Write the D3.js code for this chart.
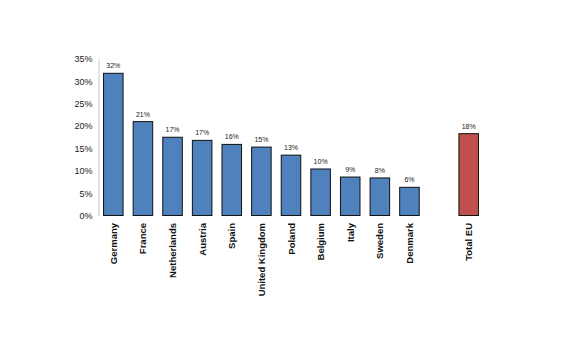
<!DOCTYPE html>
<html><head><meta charset="utf-8">
<script src="https://cdn.jsdelivr.net/npm/d3@7"></script>
<style>body{margin:0;background:#fff}svg{display:block}</style>
</head><body>
<script>
const categories = ["Germany","France","Netherlands","Austria","Spain","United Kingdom","Poland","Belgium","Italy","Sweden","Denmark","","Total EU"];
const values = [31.8,21.0,17.5,16.8,15.9,15.3,13.5,10.4,8.6,8.4,6.3,null,18.3];
const valueLabels = ["32%","21%","17%","17%","16%","15%","13%","10%","9%","8%","6%","","18%"];
const yTicks = [0,5,10,15,20,25,30,35];

const W=570,H=356;
const svg=d3.select("body").append("svg").attr("width",W).attr("height",H);
const x=d3.scaleBand().domain(categories.map((c,i)=>i)).range([98.5,483.5]).paddingInner(0.34).paddingOuter(0.17);
const y=d3.scaleLinear().domain([0,35]).range([215.5,59]);
const font="'Liberation Sans', Arial, sans-serif";

// y axis
const ya=svg.append("g").attr("transform","translate(98.5,0)").call(d3.axisLeft(y).tickValues(yTicks).tickSize(0).tickPadding(6).tickFormat(d=>d+"%"));
ya.select(".domain").attr("stroke","#c8c8c8");
ya.selectAll("text").attr("font-family",font).attr("font-size",9).attr("fill","#222");

const data=categories.map((c,i)=>({c,i,v:values[i],l:valueLabels[i]})).filter(d=>d.v!=null);
svg.selectAll("rect.bar").data(data).enter().append("rect")
 .attr("x",d=>x(d.i)).attr("width",x.bandwidth())
 .attr("y",d=>y(d.v)).attr("height",d=>y(0)-y(d.v))
 .attr("fill",d=>d.c==="Total EU"?"#C0504D":"#4F81BD")
 .attr("stroke","#111").attr("stroke-width",1);

svg.selectAll("text.val").data(data).enter().append("text")
 .attr("x",d=>x(d.i)+x.bandwidth()/2).attr("y",d=>y(d.v)-5)
 .attr("text-anchor","middle").attr("font-family",font).attr("font-size",7).attr("fill","#222")
 .text(d=>d.l);

svg.selectAll("text.cat").data(data).enter().append("text")
 .attr("transform",d=>`translate(${x(d.i)+x.bandwidth()/2+3.5},223) rotate(-90)`)
 .attr("text-anchor","end").attr("font-family",font).attr("font-size",9.5).attr("font-weight","bold").attr("fill","#111")
 .text(d=>d.c);
</script>
</body></html>
